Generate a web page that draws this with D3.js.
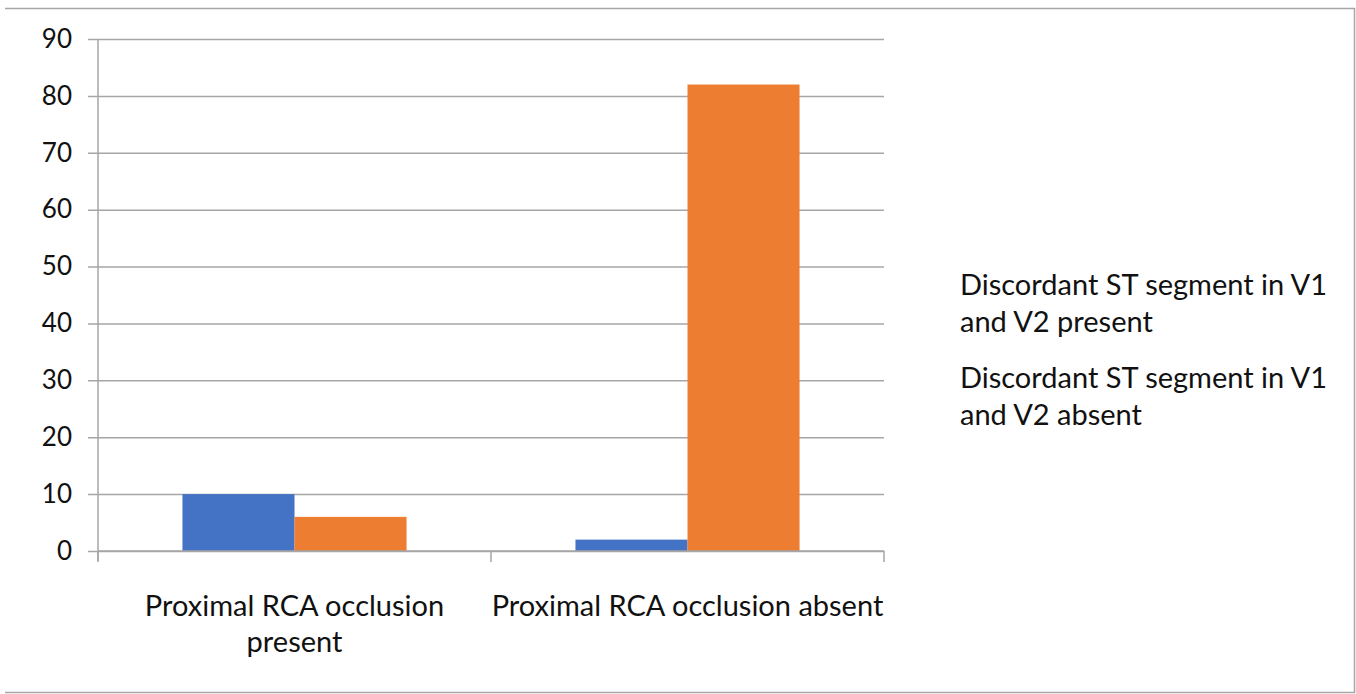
<!DOCTYPE html>
<html>
<head>
<meta charset="utf-8">
<script src="https://cdn.jsdelivr.net/npm/d3@7"></script>
<style>
  html, body { margin: 0; padding: 0; background: #fff; }
  svg { display: block; }
  text { font-family: Lato, "Open Sans", sans-serif; fill: #111; }
</style>
</head>
<body>
<svg id="chart" width="1356" height="694"></svg>
<script>
// Categories and their wrapped axis labels
const categories = ["Proximal RCA occlusion present", "Proximal RCA occlusion absent"];
const categoryLines = [["Proximal RCA occlusion", "present"], ["Proximal RCA occlusion absent"]];

// Series
const seriesNames = ["Discordant ST segment in V1 and V2 present", "Discordant ST segment in V1 and V2 absent"];
const seriesLines = [["Discordant ST segment in V1", "and V2 present"], ["Discordant ST segment in V1", "and V2 absent"]];
const stPresent = [10, 2];
const stAbsent = [6, 82];
const seriesColors = ["#4472C4", "#ED7D31"];

// Y axis ticks
const yTicks = [0, 10, 20, 30, 40, 50, 60, 70, 80, 90];

const svg = d3.select("#chart");
const gridColor = "#A6A6A6";
const tickFont = 26;
const labelFont = 29;

// Outer frame (top, right, bottom)
svg.append("path")
  .attr("d", "M5,8.5 H1354.5 V692.5 H5")
  .attr("fill", "none").attr("stroke", gridColor).attr("stroke-width", 1.5);

const plot = { left: 98, right: 884, top: 39, bottom: 551 };

const y = d3.scaleLinear().domain([0, 90]).range([plot.bottom, plot.top]);
const x0 = d3.scaleBand().domain(categories).range([plot.left, plot.right]).paddingInner(0).paddingOuter(0);
const x1 = d3.scaleBand().domain(seriesNames).range([0, x0.bandwidth()]).paddingInner(0).paddingOuter(0.754);

// Horizontal gridlines and y-axis tick labels
const yAxis = d3.axisLeft(y).tickValues(yTicks).tickSize(10).tickPadding(16);
const gy = svg.append("g").attr("transform", `translate(${plot.left},0)`).call(yAxis);
gy.select(".domain").remove();
gy.selectAll(".tick line").attr("stroke", gridColor).attr("stroke-width", 1.5)
  .attr("x1", -10).attr("x2", plot.right - plot.left);
gy.selectAll(".tick text").attr("font-size", tickFont).attr("font-family", "Lato, 'Open Sans', sans-serif").attr("fill", "#111");

// Vertical y axis line
svg.append("line")
  .attr("x1", plot.left).attr("x2", plot.left)
  .attr("y1", plot.top).attr("y2", plot.bottom + 10)
  .attr("stroke", gridColor).attr("stroke-width", 1.5);

// Bars
const rows = categories.map((c, i) => ({ cat: c, vals: [stPresent[i], stAbsent[i]] }));
const groups = svg.append("g").selectAll("g").data(rows).join("g")
  .attr("transform", d => `translate(${x0(d.cat)},0)`);
groups.selectAll("rect")
  .data(d => d.vals.map((v, j) => ({ s: seriesNames[j], v, j })))
  .join("rect")
  .attr("x", d => x1(d.s))
  .attr("width", x1.bandwidth())
  .attr("y", d => y(d.v))
  .attr("height", d => y(0) - y(d.v))
  .attr("fill", d => seriesColors[d.j]);

// X axis baseline and category boundary ticks
svg.append("line")
  .attr("x1", plot.left).attr("x2", plot.right)
  .attr("y1", plot.bottom).attr("y2", plot.bottom)
  .attr("stroke", gridColor).attr("stroke-width", 1.5);
const boundaries = categories.map(c => x0(c)).concat([x0(categories[categories.length - 1]) + x0.bandwidth()]);
svg.append("g").selectAll("line").data(boundaries).join("line")
  .attr("x1", d => d).attr("x2", d => d)
  .attr("y1", plot.bottom).attr("y2", plot.bottom + 11)
  .attr("stroke", gridColor).attr("stroke-width", 1.5);

// Category labels
categories.forEach((c, i) => {
  const t = svg.append("text")
    .attr("x", x0(c) + x0.bandwidth() / 2)
    .attr("y", 616)
    .attr("text-anchor", "middle")
    .attr("font-size", labelFont);
  categoryLines[i].forEach((line, k) => {
    t.append("tspan").attr("x", x0(c) + x0.bandwidth() / 2).attr("dy", k === 0 ? 0 : 36).text(line);
  });
});

// Legend (text entries)
const legendTop = [295, 388];
seriesNames.forEach((s, i) => {
  const t = svg.append("text").attr("x", 960).attr("y", legendTop[i]).attr("font-size", labelFont);
  seriesLines[i].forEach((line, k) => {
    t.append("tspan").attr("x", 960).attr("dy", k === 0 ? 0 : 37).text(line);
  });
});
</script>
</body>
</html>
